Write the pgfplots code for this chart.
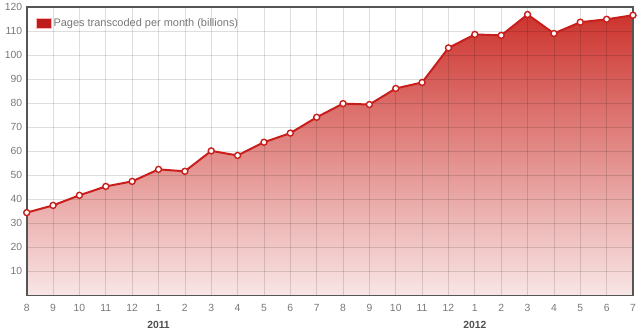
\documentclass[border=0pt]{standalone}
\usepackage{fontspec}
\setmainfont{Liberation Sans}
\usepackage{pgfplots}
\usepackage{pgfplotstable}
\pgfplotsset{compat=1.18}
\definecolor{linered}{RGB}{200,30,28}
\definecolor{filltop}{RGB}{205,52,46}
\definecolor{fillbot}{RGB}{248,230,230}
\definecolor{tickgray}{RGB}{120,120,120}
\definecolor{yeargray}{RGB}{80,80,80}
\definecolor{framegray}{RGB}{85,85,85}

\pgfplotstableread{
x y
0 34.5
1 37.5
2 41.7
3 45.4
4 47.5
5 52.5
6 51.7
7 60.2
8 58.3
9 63.8
10 67.6
11 74.2
12 79.9
13 79.5
14 86.2
15 88.7
16 103.1
17 108.7
18 108.3
19 117.0
20 109.1
21 113.8
22 115.0
23 116.7
}\datatable

\begin{document}
\begin{tikzpicture}
\begin{axis}[
  set layers=standard,
  scale only axis, width=606bp, height=288bp,
  xmin=0, xmax=23, ymin=0, ymax=120,
  xtick={0,...,23},
  xticklabels={8,9,10,11,12,1,2,3,4,5,6,7,8,9,10,11,12,1,2,3,4,5,6,7},
  ytick={10,20,...,120},
  extra x ticks={5,17},
  extra x tick labels={2011,2012},
  extra x tick style={grid=none, tick label style={yshift=-17bp, font=\fontsize{10.4}{12}\selectfont\bfseries, text=yeargray}},
  grid=major,
  grid style={black, opacity=0.13, line width=0.7bp},
  major tick length=0pt,
  axis line style={framegray, line width=1.6bp},
  tick label style={font=\fontsize{10.4}{12}\selectfont, text=tickgray},
  xticklabel style={yshift=-5.5bp},
  yticklabel style={xshift=-1bp},
  /pgf/number format/assume math mode=true,
  legend style={at={(rel axis cs:0,1)}, anchor=north west, xshift=9bp, yshift=-9bp,
    draw=none, fill=none, inner sep=0pt, font=\fontsize{11}{12}\selectfont, text=tickgray},
  legend cell align=left,
  legend image code/.code={\draw[draw=red!30, fill=linered!95!black, line width=0.6bp] (0bp,-5bp) rectangle (15bp,5bp);},
]
\addplot[on layer=axis background, draw=none, top color=filltop, bottom color=fillbot, forget plot]
  table[x=x, y=y] {\datatable} \closedcycle;
\addplot[linered, line width=2bp, mark=*, mark size=3bp,
  mark options={fill=white, draw=linered, line width=1.4bp}]
  table[x=x, y=y] {\datatable};
\addlegendentry{Pages transcoded per month (billions)}
\end{axis}
\pgfresetboundingbox
\path ([shift={(-26.7bp,-36bp)}]current axis.south west) rectangle ([shift={(7bp,7.3bp)}]current axis.north east);
\end{tikzpicture}
\end{document}
